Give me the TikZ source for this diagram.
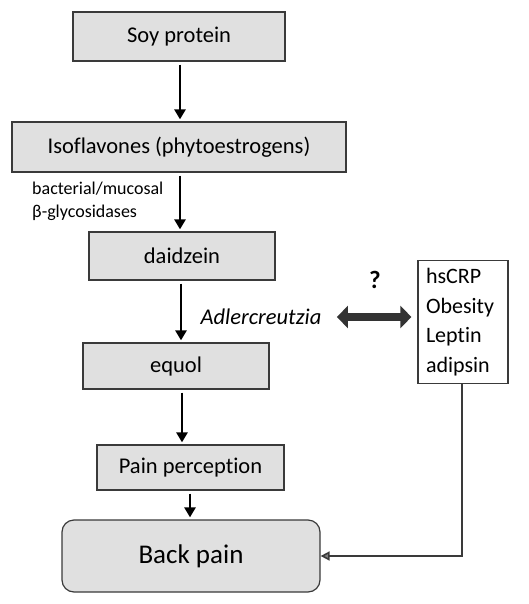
\documentclass[tikz,border=0pt]{standalone}
\usepackage{fontspec}
\setmainfont{Carlito}[Ligatures=NoCommon]
\usetikzlibrary{arrows.meta}
\definecolor{boxgray}{HTML}{E0E0E0}
\definecolor{edgegray}{HTML}{3A3A3A}
\begin{document}
\begin{tikzpicture}[x=1pt,y=-1pt,
    stage/.style={draw=edgegray,line width=1.2pt,fill=boxgray,inner sep=0pt,
        font=\fontsize{22.5}{27}\selectfont},
    flow/.style={line width=2.8pt,-{Triangle[length=10pt,width=11pt]},shorten <=3pt,shorten >=2pt}]
    \useasboundingbox (0,0) rectangle (529,604);
    % pathway
    \node[stage,minimum width=212pt,minimum height=49pt] (soy) at (179,36.5) {Soy protein};
    \node[stage,minimum width=334pt,minimum height=50pt] (iso) at (179,147) {Isoflavones (phytoestrogens)};
    \node[stage,minimum width=186pt,minimum height=48pt] (daid) at (182,256) {daidzein};
    \node[stage,minimum width=186pt,minimum height=46pt] (equol) at (176,366) {equol};
    \node[stage,minimum width=187pt,minimum height=45pt] (pain) at (190.5,467.5) {Pain perception};
    \node[stage,rounded corners=12pt,minimum width=258pt,minimum height=72pt,
        font=\fontsize{27}{32}\selectfont] (back) at (191,556) {Back pain};
    % side box
    \node[draw=edgegray,line width=1.2pt,fill=white,text width=74pt,inner sep=8pt,
        minimum height=122pt,align=left,font=\fontsize{22}{29.5}\selectfont]
        (markers) at (463,322) {hsCRP\\Obesity\\Leptin\\adipsin};
    % labels
    \node[anchor=west,inner sep=0pt,align=left,font=\fontsize{18}{23}\selectfont]
        (enz) at (32,201.5) {bacterial/mucosal\\β-glycosidases};
    \node[font=\fontsize{22.5}{27}\selectfont\itshape] (adler) at (261,317) {Adlercreutzia};
    \node[font=\fontsize{25}{30}\selectfont\bfseries] (qmark) at (375,280) {?};
    % arrows
    \draw[flow] (soy.south -| 180,0) -- (iso.north -| 180,0);
    \draw[flow] (iso.south -| 180,0) -- (daid.north -| 180,0);
    \draw[flow] (daid.south -| 181,0) -- (equol.north -| 181,0);
    \draw[flow] (equol.south -| 182,0) -- (pain.north -| 182,0);
    \draw[flow] (pain.south -| 190,0) -- (back.north -| 190,0);
    \draw[line width=8pt,draw=black!80,shorten <=12pt,shorten >=6pt,
        {Triangle[length=11pt,width=22pt]}-{Triangle[length=11pt,width=22pt]}]
        (adler.east) -- (markers.west |- adler.east);
    \draw[line width=1.6pt,draw=edgegray,-{Triangle[length=9pt,width=9pt,fill=gray]}]
        (markers.south -| 462,0) |- (back.east);
\end{tikzpicture}
\end{document}
